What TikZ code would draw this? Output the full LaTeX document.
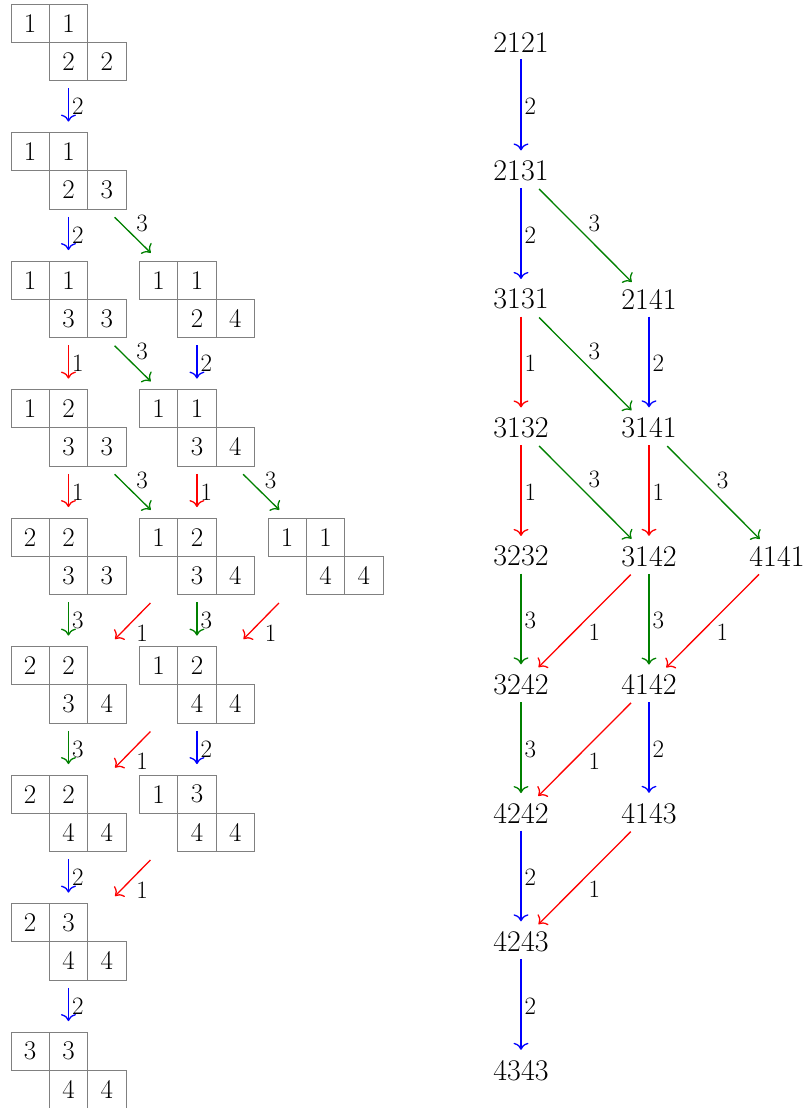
\documentclass[tikz,border=0pt]{standalone}
\usetikzlibrary{arrows.meta}
\newcommand\tabl[7]{%
  \node[cell] (#1a) at ({#2+19.15},{#3+19.15}) {#4};
  \node[cell] (#1b) at ({#2+57.45},{#3+19.15}) {#5};
  \node[cell] (#1c) at ({#2+57.45},{#3+57.45}) {#6};
  \node[cell] (#1d) at ({#2+95.75},{#3+57.45}) {#7};
}
\begin{document}
\begin{tikzpicture}[x=1pt,y=-1pt,
  cell/.style={draw=black!50, line width=0.8pt, minimum size=38.3pt, inner sep=0pt, font=\fontsize{27}{29}\selectfont},
  word/.style={inner sep=0pt, font=\fontsize{30}{32}\selectfont},
  arr/.style={line width=1.3pt, -{Computer Modern Rightarrow[length=7pt,width=15pt]}},
  lab/.style={font=\fontsize{25}{27}\selectfont, text=black, inner sep=3pt, auto, midway},
  vt/.style={shorten <=7.4pt, shorten >=10.5pt},
  dg/.style={shorten <=11pt, shorten >=11pt},
  wv/.style={shorten <=7pt, shorten >=10pt},
  wd/.style={shorten <=11pt, shorten >=10pt},
  ca/.style={red}, cb/.style={blue}, cc/.style={green!50!black}]
\useasboundingbox (0,0) rectangle (809,1108);
% tableaux
\tabl{T00}{11}{4}{1}{1}{2}{2}
\tabl{T10}{11}{132.5}{1}{1}{2}{3}
\tabl{T20}{11}{261}{1}{1}{3}{3}
\tabl{T21}{139.5}{261}{1}{1}{2}{4}
\tabl{T30}{11}{389.5}{1}{2}{3}{3}
\tabl{T31}{139.5}{389.5}{1}{1}{3}{4}
\tabl{T40}{11}{518}{2}{2}{3}{3}
\tabl{T41}{139.5}{518}{1}{2}{3}{4}
\tabl{T42}{268}{518}{1}{1}{4}{4}
\tabl{T50}{11}{646.5}{2}{2}{3}{4}
\tabl{T51}{139.5}{646.5}{1}{2}{4}{4}
\tabl{T60}{11}{775}{2}{2}{4}{4}
\tabl{T61}{139.5}{775}{1}{3}{4}{4}
\tabl{T70}{11}{903.5}{2}{3}{4}{4}
\tabl{T80}{11}{1032}{3}{3}{4}{4}
% left arrows
\draw[arr,cb,vt] (T00c.south) -- node[lab]{2} (T10b.north);
\draw[arr,cb,vt] (T10c.south) -- node[lab]{2} (T20b.north);
\draw[arr,cc,dg] (T10d.south) -- node[lab]{3} (T21a.north);
\draw[arr,ca,vt] (T20c.south) -- node[lab]{1} (T30b.north);
\draw[arr,cc,dg] (T20d.south) -- node[lab]{3} (T31a.north);
\draw[arr,cb,vt] (T21c.south) -- node[lab]{2} (T31b.north);
\draw[arr,ca,vt] (T30c.south) -- node[lab]{1} (T40b.north);
\draw[arr,cc,dg] (T30d.south) -- node[lab]{3} (T41a.north);
\draw[arr,ca,vt] (T31c.south) -- node[lab]{1} (T41b.north);
\draw[arr,cc,dg] (T31d.south) -- node[lab]{3} (T42a.north);
\draw[arr,cc,vt] (T40c.south) -- node[lab]{3} (T50b.north);
\draw[arr,ca] ([shift={(-27,8)}]T41c.south west) -- node[lab]{1} ([shift={(27,-7)}]T50b.north east);
\draw[arr,cc,vt] (T41c.south) -- node[lab]{3} (T51b.north);
\draw[arr,ca] ([shift={(-27,8)}]T42c.south west) -- node[lab]{1} ([shift={(27,-7)}]T51b.north east);
\draw[arr,cc,vt] (T50c.south) -- node[lab]{3} (T60b.north);
\draw[arr,ca] ([shift={(-27,8)}]T51c.south west) -- node[lab]{1} ([shift={(27,-7)}]T60b.north east);
\draw[arr,cb,vt] (T51c.south) -- node[lab]{2} (T61b.north);
\draw[arr,cb,vt] (T60c.south) -- node[lab]{2} (T70b.north);
\draw[arr,ca] ([shift={(-27,8)}]T61c.south west) -- node[lab]{1} ([shift={(27,-7)}]T70b.north east);
\draw[arr,cb,vt] (T70c.south) -- node[lab]{2} (T80b.north);
% right words
\node[word] (w2121) at (521,42.3) {2121};
\node[word] (w2131) at (521,170.8) {2131};
\node[word] (w3131) at (521,299.3) {3131};
\node[word] (w2141) at (649,299.3) {2141};
\node[word] (w3132) at (521,427.8) {3132};
\node[word] (w3141) at (649,427.8) {3141};
\node[word] (w3232) at (521,556.3) {3232};
\node[word] (w3142) at (649,556.3) {3142};
\node[word] (w4141) at (777,556.3) {4141};
\node[word] (w3242) at (521,684.8) {3242};
\node[word] (w4142) at (649,684.8) {4142};
\node[word] (w4242) at (521,813.3) {4242};
\node[word] (w4143) at (649,813.3) {4143};
\node[word] (w4243) at (521,941.8) {4243};
\node[word] (w4343) at (521,1070.3) {4343};
% right arrows
\draw[arr,cb,wv] (w2121) -- node[lab]{2} (w2131);
\draw[arr,cb,wv] (w2131) -- node[lab]{2} (w3131);
\draw[arr,cc,wd] (w2131) -- node[lab]{3} (w2141);
\draw[arr,ca,wv] (w3131) -- node[lab]{1} (w3132);
\draw[arr,cc,wd] (w3131) -- node[lab]{3} (w3141);
\draw[arr,cb,wv] (w2141) -- node[lab]{2} (w3141);
\draw[arr,ca,wv] (w3132) -- node[lab]{1} (w3232);
\draw[arr,cc,wd] (w3132) -- node[lab]{3} (w3142);
\draw[arr,ca,wv] (w3141) -- node[lab]{1} (w3142);
\draw[arr,cc,wd] (w3141) -- node[lab]{3} (w4141);
\draw[arr,cc,wv] (w3232) -- node[lab]{3} (w3242);
\draw[arr,ca,wd] (w3142) -- node[lab]{1} (w3242);
\draw[arr,cc,wv] (w3142) -- node[lab]{3} (w4142);
\draw[arr,ca,wd] (w4141) -- node[lab]{1} (w4142);
\draw[arr,cc,wv] (w3242) -- node[lab]{3} (w4242);
\draw[arr,ca,wd] (w4142) -- node[lab]{1} (w4242);
\draw[arr,cb,wv] (w4142) -- node[lab]{2} (w4143);
\draw[arr,cb,wv] (w4242) -- node[lab]{2} (w4243);
\draw[arr,ca,wd] (w4143) -- node[lab]{1} (w4243);
\draw[arr,cb,wv] (w4243) -- node[lab]{2} (w4343);
\end{tikzpicture}
\end{document}
